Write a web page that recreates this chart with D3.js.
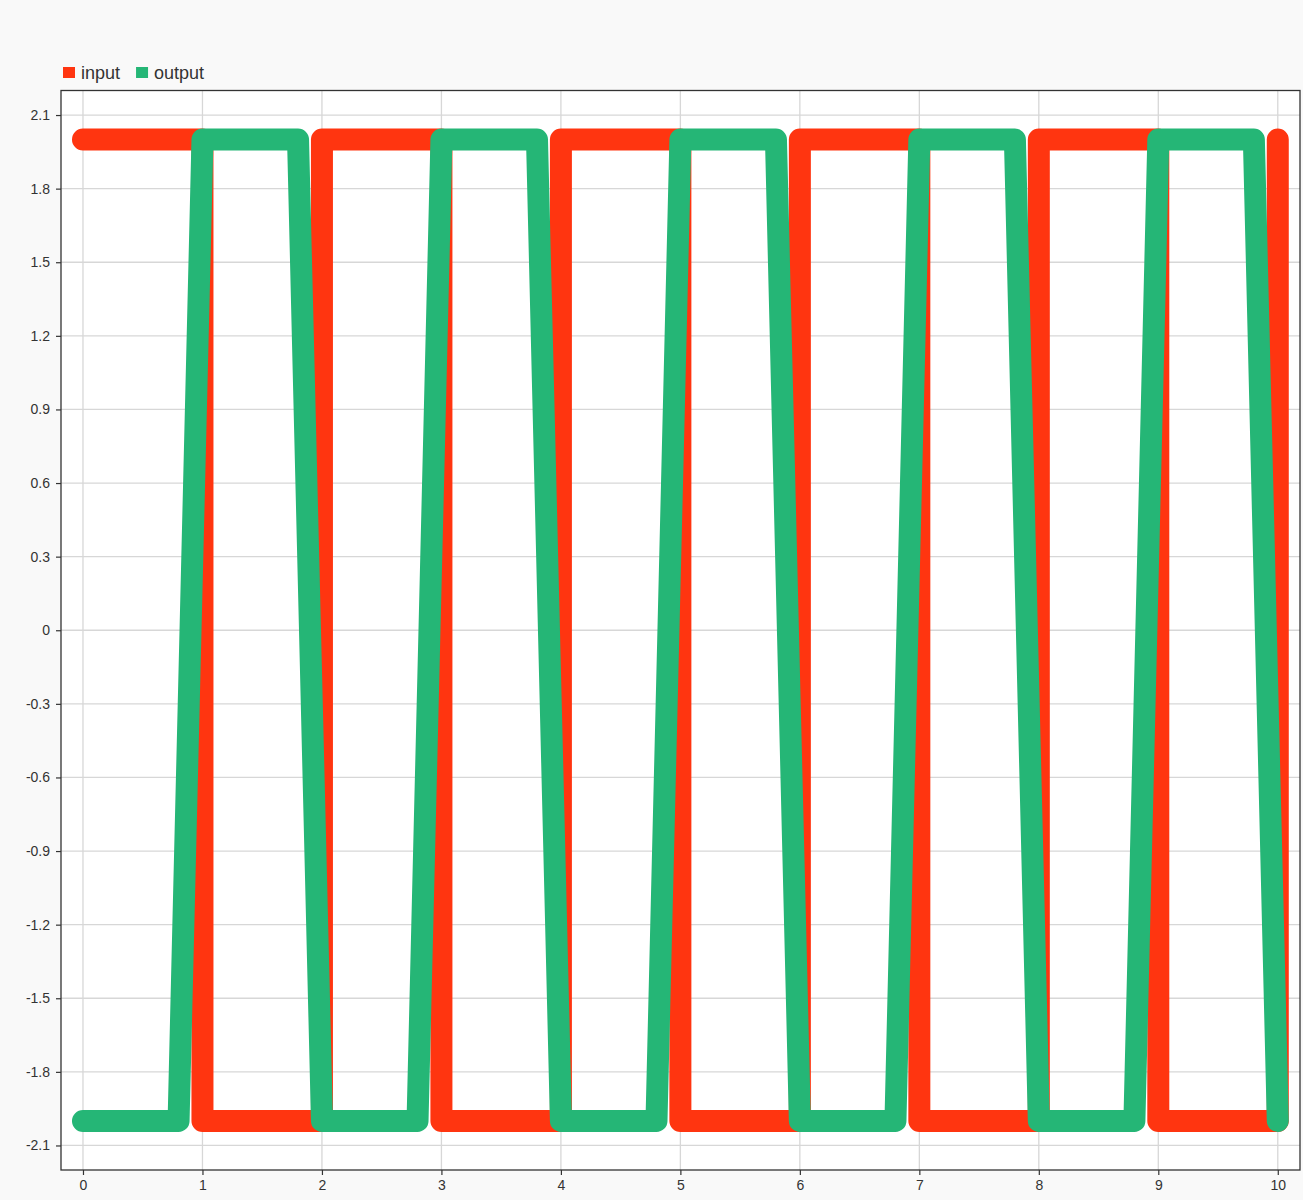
<!DOCTYPE html>
<html><head><meta charset="utf-8">
<script src="https://cdn.jsdelivr.net/npm/d3@7"></script>
<style>
html,body{margin:0;padding:0;background:#f9f9f9;}
svg{display:block;font-family:"Liberation Sans",Arial,sans-serif;}
</style></head>
<body>
<svg id="chart" width="1303" height="1200"></svg>
<script>
// ---- data ----
const seriesNames = ["input", "output"];
const seriesColors = ["#ff3510", "#25b676"];
const inputX = [0, 1, 1, 2, 2, 3, 3, 4, 4, 5, 5, 6, 6, 7, 7, 8, 8, 9, 9, 10, 10];
const inputY = [2, 2, -2, -2, 2, 2, -2, -2, 2, 2, -2, -2, 2, 2, -2, -2, 2, 2, -2, -2, 2];
const outputX = [0, 0.8, 1, 1.8, 2, 2.8, 3, 3.8, 4, 4.8, 5, 5.8, 6, 6.8, 7, 7.8, 8, 8.8, 9, 9.8, 10];
const outputY = [-2, -2, 2, 2, -2, -2, 2, 2, -2, -2, 2, 2, -2, -2, 2, 2, -2, -2, 2, 2, -2];
const xTicks = [0, 1, 2, 3, 4, 5, 6, 7, 8, 9, 10];
const yTicks = [2.1, 1.8, 1.5, 1.2, 0.9, 0.6, 0.3, 0, -0.3, -0.6, -0.9, -1.2, -1.5, -1.8, -2.1];
const yTickLabels = ["2.1", "1.8", "1.5", "1.2", "0.9", "0.6", "0.3", "0", "-0.3", "-0.6", "-0.9", "-1.2", "-1.5", "-1.8", "-2.1"];

// ---- layout ----
const plot = {left: 61, right: 1300, top: 90.5, bottom: 1170};
const svg = d3.select("#chart");

const x = d3.scaleLinear().domain([-0.184, 10.186]).range([plot.left, plot.right]);
const y = d3.scaleLinear().domain([-2.2, 2.2]).range([plot.bottom, plot.top]);

// plot background
svg.append("rect").attr("x", plot.left).attr("y", plot.top)
  .attr("width", plot.right - plot.left).attr("height", plot.bottom - plot.top)
  .attr("fill", "#ffffff");

// grid
const grid = svg.append("g").attr("stroke", "#d7d7d7").attr("stroke-width", 1.3);
grid.selectAll("line.h").data(yTicks).join("line").attr("class", "h")
  .attr("x1", plot.left).attr("x2", plot.right)
  .attr("y1", d => y(d)).attr("y2", d => y(d));
grid.selectAll("line.v").data(xTicks).join("line").attr("class", "v")
  .attr("y1", plot.top).attr("y2", plot.bottom)
  .attr("x1", d => x(d)).attr("x2", d => x(d));

// axes
const yAxis = d3.axisLeft(y).tickValues(yTicks)
  .tickFormat((d, i) => yTickLabels[i]).tickSize(5).tickPadding(6).tickSizeOuter(0);
const xAxis = d3.axisBottom(x).tickValues(xTicks).tickFormat(d => String(d))
  .tickSize(5).tickPadding(5).tickSizeOuter(0);

const gy = svg.append("g").attr("transform", `translate(${plot.left},0)`).call(yAxis);
const gx = svg.append("g").attr("transform", `translate(0,${plot.bottom})`).call(xAxis);
[gx, gy].forEach(g => {
  g.select(".domain").remove();
  g.selectAll(".tick line").attr("stroke", "#333").attr("stroke-width", 1.2);
  g.selectAll(".tick text").attr("fill", "#333").attr("font-size", 14)
    .attr("font-family", "'Liberation Sans', Arial, sans-serif");
});

// lines
const line = d3.line().x(d => x(d[0])).y(d => y(d[1]));
const inputPts = inputX.map((v, i) => [v, inputY[i]]);
const outputPts = outputX.map((v, i) => [v, outputY[i]]);
[inputPts, outputPts].forEach((pts, i) => {
  svg.append("path").datum(pts).attr("d", line)
    .attr("fill", "none").attr("stroke", seriesColors[i])
    .attr("stroke-width", 22).attr("stroke-linejoin", "round").attr("stroke-linecap", "round");
});

// frame
svg.append("rect").attr("x", plot.left).attr("y", plot.top)
  .attr("width", plot.right - plot.left).attr("height", plot.bottom - plot.top)
  .attr("fill", "none").attr("stroke", "#333").attr("stroke-width", 1.3);

// legend
const legend = svg.append("g");
let lx = 63;
seriesNames.forEach((name, i) => {
  legend.append("rect").attr("x", lx).attr("y", 67).attr("width", 12).attr("height", 11)
    .attr("fill", seriesColors[i]);
  const t = legend.append("text").attr("x", lx + 18).attr("y", 78.5)
    .attr("font-size", 18).attr("fill", "#333").text(name);
  lx += 18 + t.node().getComputedTextLength() + 16;
});
</script>
</body></html>
